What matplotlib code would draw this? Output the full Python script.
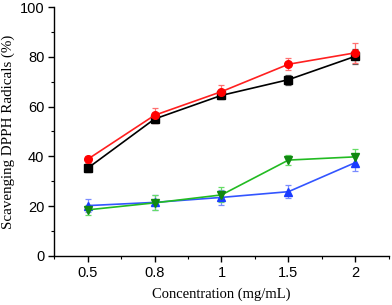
# DPPH radical scavenging vs concentration

# Libraries
import numpy as np
import matplotlib
matplotlib.use("Agg")
import matplotlib.pyplot as plt
from matplotlib.ticker import MultipleLocator

# Data
conc = ['0.5', '0.8', '1', '1.5', '2']

black = [35.2, 55.0, 64.5, 70.8, 80.2]
black_err = [1.5, 1.5, 1.5, 2.0, 3.0]

red = [38.8, 56.5, 66.0, 77.0, 81.6]
red_err = [1.5, 3.0, 2.5, 2.5, 4.0]

green = [18.5, 21.3, 24.5, 38.5, 39.8]
green_err = [2.0, 3.0, 3.0, 2.0, 3.0]

blue = [20.2, 21.5, 23.5, 25.8, 37.5]
blue_err = [2.5, 3.0, 3.0, 2.5, 3.5]

x = np.arange(len(conc))

fig = plt.figure(figsize=(3.92, 3.05), dpi=100)
ax = fig.add_axes([0.138, 0.161, 0.854, 0.816])

# (values, errors, line colour, marker colour, errorbar colour, marker)
series = [
    (black, black_err, '#000000', '#000000', '#555555', 's'),
    (red, red_err, '#ff2020', '#ff0000', '#ff7070', 'o'),
    (blue, blue_err, '#3355ff', '#1a3cff', '#7a8cff', '^'),
    (green, green_err, '#22bb22', '#118811', '#66dd66', 'v'),
]

for vals, err, lc, mc, ec, m in series:
    ax.errorbar(x, vals, yerr=err, color=lc, marker=m, markersize=5.5,
                markerfacecolor=mc, markeredgecolor=mc, linewidth=1.2,
                ecolor=ec, elinewidth=0.9, capsize=2.5, capthick=0.9)

ax.set_xlim(-0.5, 4.5)
ax.set_ylim(0, 100)
ax.set_xticks(x)
ax.set_xticklabels(conc)
ax.xaxis.set_minor_locator(MultipleLocator(0.5))
ax.yaxis.set_major_locator(MultipleLocator(20))
ax.yaxis.set_minor_locator(MultipleLocator(10))

for side in ['top', 'right']:
    ax.spines[side].set_visible(False)
ax.spines['left'].set_linewidth(1.0)
ax.spines['bottom'].set_linewidth(1.0)

ax.tick_params(which='major', direction='out', length=4, width=1.0,
               labelsize=10.5, pad=3)
ax.tick_params(which='minor', direction='out', length=2.5, width=0.8)
for lab in ax.get_xticklabels() + ax.get_yticklabels():
    lab.set_family('Liberation Sans')

ax.set_xlabel('Concentration (mg/mL)', family='Liberation Serif',
              fontsize=10.5, labelpad=6)
ax.set_ylabel('Scavenging DPPH Radicals (%)', family='Liberation Serif',
              fontsize=10.8, va='center')
ax.yaxis.set_label_coords(-0.137, 0.5)

plt.savefig('out.png', dpi=100)
